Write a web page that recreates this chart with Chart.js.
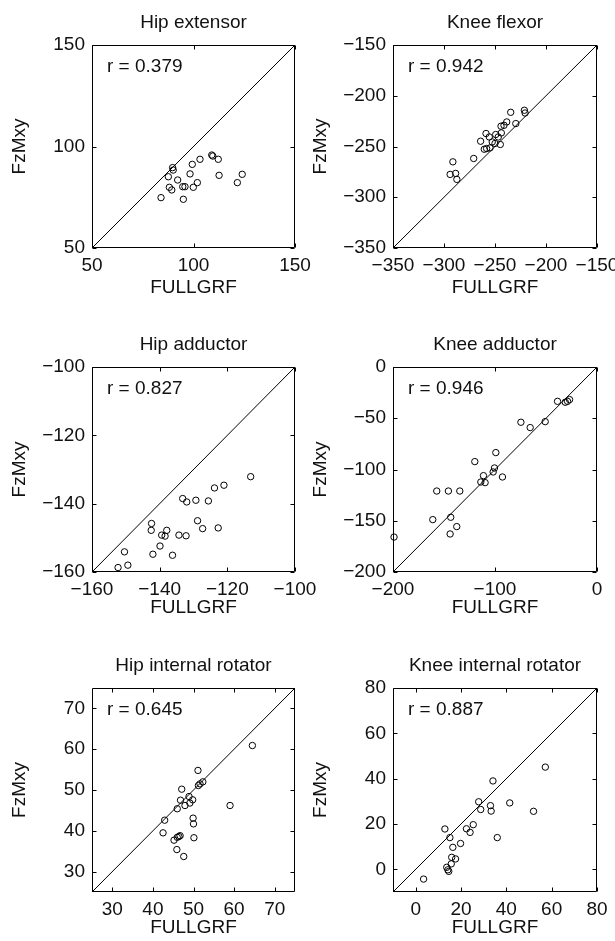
<!DOCTYPE html>
<html><head><meta charset="utf-8">
<script src="https://cdn.jsdelivr.net/npm/chart.js@4.4.1/dist/chart.umd.min.js"></script>
<style>
html,body{margin:0;padding:0;background:#fff;overflow:hidden;width:615px;height:941px;position:relative;}
canvas{position:absolute;}
</style></head><body>
<script>
// ---------- DATA ----------
const panelTitles = ['Hip extensor','Knee flexor','Hip adductor','Knee adductor','Hip internal rotator','Knee internal rotator'];
const rValues = ['0.379','0.942','0.827','0.946','0.645','0.887'];
const xAxisTitle = 'FULLGRF';
const yAxisTitle = 'FzMxy';

const hipExtensorRange = [50, 150];
const hipExtensorTicks = [50, 100, 150];
const hipExtensorX = [84.0, 89.7, 90.0, 87.6, 88.1, 89.3, 92.2, 94.7, 95.8, 95.0, 98.3, 99.4, 99.9, 101.9, 103.2, 109.0, 109.5, 112.2, 112.6, 121.6, 124.0];
const hipExtensorY = [74.8, 89.6, 88.4, 85.1, 79.9, 78.6, 83.5, 80.2, 80.2, 74.0, 86.5, 91.2, 79.9, 82.2, 93.7, 95.8, 95.3, 93.7, 85.8, 82.2, 86.3];

const kneeFlexorRange = [-350, -150];
const kneeFlexorTicks = [-350, -300, -250, -200, -150];
const kneeFlexorX = [-294.0, -288.6, -287.4, -291.3, -270.9, -264.1, -260.5, -258.8, -255.6, -258.2, -254.9, -252.7, -249.3, -246.8, -244.8, -243.8, -244.1, -241.2, -238.5, -234.6, -229.6, -221.2, -220.5, -250.0];
const kneeFlexorY = [-277.5, -276.5, -282.4, -265.1, -261.8, -244.8, -252.7, -237.2, -240.6, -252.0, -251.4, -245.5, -238.2, -240.6, -248.0, -236.6, -230.0, -229.1, -225.8, -216.3, -227.4, -214.3, -217.0, -247.0];

const hipAdductorRange = [-160, -100];
const hipAdductorTicks = [-160, -140, -120, -100];
const hipAdductorX = [-152.3, -149.4, -150.4, -142.0, -142.4, -142.5, -139.9, -139.4, -138.4, -137.9, -136.2, -134.3, -132.2, -133.2, -132.0, -129.3, -128.8, -127.3, -125.6, -123.8, -122.7, -121.0, -113.1];
const hipAdductorY = [-158.7, -158.0, -154.1, -154.8, -145.8, -147.8, -152.4, -149.2, -149.5, -147.8, -155.1, -149.2, -149.4, -138.5, -139.5, -139.0, -145.0, -147.3, -139.2, -135.4, -147.1, -134.6, -132.1];

const kneeAdductorRange = [-200, 0];
const kneeAdductorXTicks = [-200, -100, 0];
const kneeAdductorYTicks = [-200, -150, -100, -50, 0];
const kneeAdductorX = [-199.0, -161.0, -157.1, -145.7, -134.5, -143.4, -144.0, -137.5, -119.8, -113.9, -111.3, -109.7, -101.8, -100.5, -99.2, -92.7, -74.6, -65.5, -50.8, -38.7, -31.1, -28.9, -26.9];
const kneeAdductorY = [-165.9, -148.9, -121.0, -121.0, -121.0, -146.6, -162.9, -155.7, -92.3, -112.2, -106.0, -112.8, -102.4, -98.5, -83.5, -107.3, -53.9, -59.1, -53.3, -33.5, -34.4, -33.5, -31.8];

const hipIntRotRange = [25, 75];
const hipIntRotTicks = [30, 40, 50, 60, 70];
const hipIntRotX = [42.5, 42.9, 45.2, 46.0, 46.4, 46.7, 45.9, 47.6, 46.0, 46.8, 47.1, 47.9, 48.9, 49.1, 49.8, 49.9, 50.0, 50.1, 51.1, 51.2, 51.6, 52.3, 59.0, 64.5];
const hipIntRotY = [39.5, 42.6, 37.7, 38.4, 38.6, 38.8, 35.4, 33.7, 45.4, 47.5, 50.2, 46.2, 48.4, 46.8, 47.6, 43.1, 41.7, 38.3, 54.8, 51.1, 51.5, 52.0, 46.2, 60.9];

const kneeIntRotRange = [-10, 80];
const kneeIntRotTicks = [0, 20, 40, 60, 80];
const kneeIntRotX = [3.5, 12.9, 15.1, 13.7, 14.2, 14.6, 15.7, 15.9, 17.6, 16.4, 19.8, 22.4, 24.0, 25.4, 27.8, 28.7, 33.0, 33.3, 34.1, 36.0, 41.5, 52.0, 57.2];
const kneeIntRotY = [-4.3, 17.8, 14.0, 0.9, -0.2, -0.9, 2.4, 5.3, 4.6, 9.7, 11.4, 17.9, 16.3, 19.7, 29.8, 26.4, 28.1, 25.7, 39.0, 14.0, 29.3, 25.6, 45.1];

// ---------- LAYOUT ----------
const FONT = '"Liberation Sans", Arial, Helvetica, sans-serif';
const FS = 19;
const TXT = '#111';
Chart.defaults.font.family = FONT;
Chart.defaults.font.size = FS;
Chart.defaults.color = TXT;

const panels = [
  {title: panelTitles[0], r: rValues[0], xs: hipExtensorX, ys: hipExtensorY, range: hipExtensorRange, xTicks: hipExtensorTicks, yTicks: hipExtensorTicks, col: 0, top: 45, h: 203, xh: 51},
  {title: panelTitles[1], r: rValues[1], xs: kneeFlexorX, ys: kneeFlexorY, range: kneeFlexorRange, xTicks: kneeFlexorTicks, yTicks: kneeFlexorTicks, col: 1, top: 45, h: 203, xh: 51},
  {title: panelTitles[2], r: rValues[2], xs: hipAdductorX, ys: hipAdductorY, range: hipAdductorRange, xTicks: hipAdductorTicks, yTicks: hipAdductorTicks, col: 0, top: 367, h: 205, xh: 47},
  {title: panelTitles[3], r: rValues[3], xs: kneeAdductorX, ys: kneeAdductorY, range: kneeAdductorRange, xTicks: kneeAdductorXTicks, yTicks: kneeAdductorYTicks, col: 1, top: 367, h: 205, xh: 47},
  {title: panelTitles[4], r: rValues[4], xs: hipIntRotX, ys: hipIntRotY, range: hipIntRotRange, xTicks: hipIntRotTicks, yTicks: hipIntRotTicks, col: 0, top: 688, h: 204, xh: 47},
  {title: panelTitles[5], r: rValues[5], xs: kneeIntRotX, ys: kneeIntRotY, range: kneeIntRotRange, xTicks: kneeIntRotTicks, yTicks: kneeIntRotTicks, col: 1, top: 688, h: 204, xh: 47}
];
const cols = [{canvasLeft: 0, plotLeft: 92, w: 203}, {canvasLeft: 301, plotLeft: 393, w: 204}];

const fmt = v => String(v).replace('-', '\u2212');

const boxPlugin = {
  id: 'matlabBox',
  afterDatasetsDraw(chart, args, opts) {
    const {ctx, chartArea: a, scales} = chart;
    const L = Math.round(a.left) + 0.5, R = Math.round(a.right) - 0.5;
    const T = Math.round(a.top) + 0.5, B = Math.round(a.bottom) - 0.5;
    ctx.save();
    ctx.strokeStyle = '#000';
    ctx.lineWidth = 1;
    ctx.beginPath();
    ctx.rect(L, T, R - L, B - T);
    const tl = 4;
    scales.x.ticks.forEach(t => {
      const px = Math.round(scales.x.getPixelForValue(t.value)) + 0.5;
      ctx.moveTo(px, B); ctx.lineTo(px, B - tl);
      ctx.moveTo(px, T); ctx.lineTo(px, T + tl);
    });
    scales.y.ticks.forEach(t => {
      const py = Math.round(scales.y.getPixelForValue(t.value)) + 0.5;
      ctx.moveTo(L, py); ctx.lineTo(L + tl, py);
      ctx.moveTo(R, py); ctx.lineTo(R - tl, py);
    });
    ctx.stroke();
    ctx.fillStyle = TXT;
    ctx.font = FS + 'px ' + FONT;
    ctx.textBaseline = 'middle';
    ctx.textAlign = 'left';
    ctx.fillText('r = ' + opts.r, a.left + 15, a.top + 22);
    ctx.restore();
  }
};

panels.forEach((p, i) => {
  const c = cols[p.col];
  const plotCenter = c.plotLeft + c.w / 2;
  const cw = Math.round(2 * (plotCenter - c.canvasLeft));
  const yw = c.plotLeft - c.canvasLeft;
  const padRight = cw - yw - c.w;
  const ctop = p.top - 45;
  const ch = 45 + p.h + p.xh;
  const cv = document.createElement('canvas');
  cv.width = cw; cv.height = ch;
  cv.style.left = c.canvasLeft + 'px';
  cv.style.top = ctop + 'px';
  cv.style.width = cw + 'px';
  cv.style.height = ch + 'px';
  document.body.appendChild(cv);

  const pts = p.xs.map((x, k) => ({x: x, y: p.ys[k]}));
  const diag = [{x: p.range[0], y: p.range[0]}, {x: p.range[1], y: p.range[1]}];

  new Chart(cv, {
    type: 'scatter',
    data: {
      datasets: [
        {type: 'line', data: diag, xAxisID: 'x', yAxisID: 'y', borderColor: '#000', borderWidth: 1, pointRadius: 0, fill: false, tension: 0},
        {data: pts, xAxisID: 'x', yAxisID: 'y', clip: false, borderColor: '#000', backgroundColor: 'rgba(0,0,0,0)', borderWidth: 1, pointRadius: 3.2, pointStyle: 'circle'}
      ]
    },
    options: {
      responsive: false,
      animation: false,
      devicePixelRatio: 1,
      layout: {padding: 0},
      plugins: {
        legend: {display: false},
        tooltip: {enabled: false},
        title: {display: true, text: p.title, color: TXT, font: {size: FS, weight: 'normal', family: FONT}, padding: {top: 11.6, bottom: 10.6}},
        matlabBox: {r: p.r}
      },
      scales: {
        x: {
          type: 'linear', min: p.range[0], max: p.range[1],
          grid: {display: false, drawTicks: false},
          border: {display: false},
          afterBuildTicks: s => { s.ticks = p.xTicks.map(v => ({value: v})); },
          afterFit: s => { s.height = p.xh; },
          ticks: {autoSkip: false, maxRotation: 0, minRotation: 0, padding: 6, color: TXT, font: {size: FS}, callback: v => fmt(v)},
          title: {display: true, text: xAxisTitle, color: TXT, font: {size: FS}, padding: {top: 0, bottom: 0}}
        },
        y: {
          type: 'linear', position: 'left', min: p.range[0], max: p.range[1],
          grid: {display: false, drawTicks: false},
          border: {display: false},
          afterBuildTicks: s => { s.ticks = p.yTicks.map(v => ({value: v})); },
          afterFit: s => { s.width = yw; },
          ticks: {autoSkip: false, padding: 7, color: TXT, font: {size: FS}, callback: v => fmt(v)},
          title: {display: true, text: yAxisTitle, color: TXT, font: {size: FS}, padding: {top: 8.6, bottom: 0}}
        },
        yPad: {
          type: 'linear', position: 'right', display: true,
          grid: {display: false, drawTicks: false},
          border: {display: false},
          ticks: {display: false},
          afterFit: s => { s.width = padRight; }
        }
      }
    },
    plugins: [boxPlugin]
  });
});
</script>
</body></html>
